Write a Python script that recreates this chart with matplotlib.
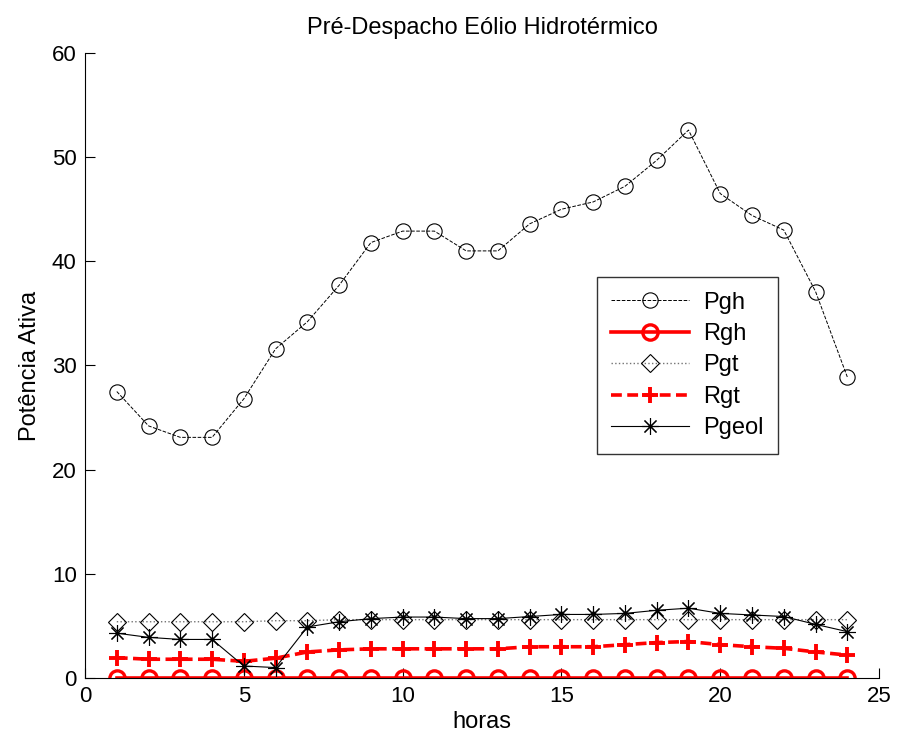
import numpy as np
import matplotlib.pyplot as plt

plt.rcParams['font.family'] = ['Liberation Sans', 'DejaVu Sans']

# despacho horario (MW)
horas = np.arange(1, 25)
Pgh = [27.5, 24.2, 23.1, 23.1, 26.8, 31.6, 34.2, 37.7, 41.8, 42.9, 42.9, 41.0,
       41.0, 43.6, 45.0, 45.7, 47.2, 49.7, 52.6, 46.5, 44.4, 43.0, 37.1, 28.9]
Rgh = [0.0] * 24
Pgt = [5.4, 5.4, 5.4, 5.4, 5.4, 5.5, 5.5, 5.6, 5.6, 5.6, 5.6, 5.6,
       5.6, 5.6, 5.6, 5.6, 5.6, 5.6, 5.6, 5.6, 5.6, 5.6, 5.6, 5.6]
Rgt = [1.95, 1.8, 1.8, 1.8, 1.6, 1.9, 2.5, 2.7, 2.8, 2.8, 2.8, 2.8,
       2.8, 3.0, 3.0, 3.0, 3.2, 3.4, 3.5, 3.2, 3.0, 2.85, 2.5, 2.2]
Pgeol = [4.3, 3.9, 3.7, 3.7, 1.15, 1.0, 4.9, 5.4, 5.7, 5.85, 5.85, 5.7,
         5.7, 5.9, 6.1, 6.1, 6.2, 6.5, 6.7, 6.2, 6.05, 5.9, 5.15, 4.45]

fig = plt.figure(figsize=(8.97, 7.4), dpi=100)
ax = fig.add_axes([0.0948, 0.0838, 0.8852, 0.8446])

asterisco = (8, 2, 0)

ax.plot(horas, Pgh, color='black', ls='--', lw=0.7, marker='o', ms=11,
        mfc='none', mec='black', mew=0.8, label='Pgh')
ax.plot(horas, Rgh, color='red', ls='-', lw=2.6, marker='o', ms=11,
        mfc='none', mec='red', mew=2.4, label='Rgh')
ax.plot(horas, Pgt, color='0.45', ls=':', lw=1.0, marker='D', ms=9,
        mfc='none', mec='black', mew=0.8, label='Pgt')
ax.plot(horas, Rgt, color='red', ls='--', lw=2.6, dashes=(3, 1.5), marker='+',
        ms=12, mec='red', mew=2.8, label='Rgt')
ax.plot(horas, Pgeol, color='black', ls='-', lw=0.8, marker=asterisco, ms=12,
        mec='black', mew=0.8, label='Pgeol')

ax.set_xlim(0, 25)
ax.set_ylim(0, 60)
ax.set_xticks([0, 5, 10, 15, 20, 25])
ax.set_yticks([0, 10, 20, 30, 40, 50, 60])
ax.tick_params(direction='in', length=7, width=0.8, labelsize=16, pad=6)
for s in ['top', 'right']:
    ax.spines[s].set_visible(False)
for s in ['left', 'bottom']:
    ax.spines[s].set_linewidth(0.8)

ax.set_title('Pré-Despacho Eólio Hidrotérmico', fontsize=17, pad=14)
ax.set_xlabel('horas', fontsize=17, labelpad=3)
ax.set_ylabel('Potência Ativa', fontsize=17, labelpad=8)

leg = ax.legend(loc='center', bbox_to_anchor=(0.759, 0.5), fontsize=17,
                frameon=True, fancybox=False, edgecolor='black',
                handlelength=3.3, borderpad=0.6, labelspacing=0.4,
                handletextpad=0.6)
leg.get_frame().set_linewidth(1.0)

fig.savefig('out.png', dpi=100, facecolor='white')
